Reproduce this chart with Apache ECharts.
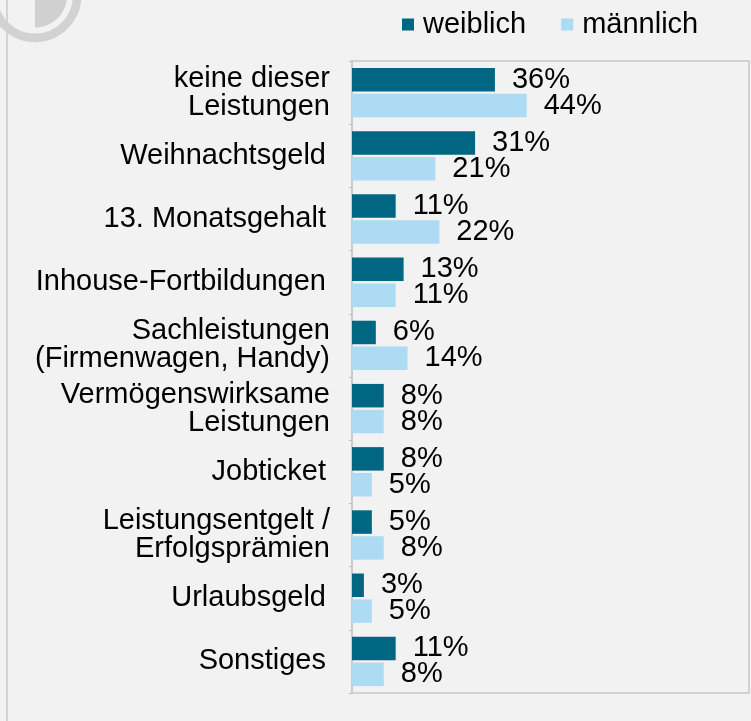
<!DOCTYPE html>
<html>
<head>
<meta charset="utf-8">
<script src="https://cdn.jsdelivr.net/npm/echarts@6/dist/echarts.min.js"></script>
<style>
  html, body { margin: 0; padding: 0; background: #f2f2f2; }
  #chart { width: 751px; height: 721px; }
</style>
</head>
<body>
<div id="chart"></div>
<script>
// Daten
var categories = [
    'keine dieser\nLeistungen',
    'Weihnachtsgeld',
    '13. Monatsgehalt',
    'Inhouse-Fortbildungen',
    'Sachleistungen\n(Firmenwagen, Handy)',
    'Vermögenswirksame\nLeistungen',
    'Jobticket',
    'Leistungsentgelt /\nErfolgsprämien',
    'Urlaubsgeld',
    'Sonstiges'
];
var weiblich = [36, 31, 11, 13, 6, 8, 8, 5, 3, 11];
var maennlich = [44, 21, 22, 11, 14, 8, 5, 8, 5, 8];

var font = '"Liberation Sans", Arial, sans-serif';
var chart = echarts.init(document.getElementById('chart'));

var option = {
    backgroundColor: '#f2f2f2',
    animation: false,
    // Logo oben links + Randlinie
    graphic: [
        { type: 'line', shape: { x1: 7, y1: 0, x2: 7, y2: 721 }, style: { stroke: '#d4d4d4', lineWidth: 2 } },
        { type: 'circle', shape: { cx: 35, cy: -4.3, r: 42.2 }, style: { fill: 'none', stroke: '#d2d2d2', lineWidth: 8.6 } },
        { type: 'sector', shape: { cx: 35, cy: -4.3, r: 32, startAngle: -Math.PI / 2, endAngle: Math.PI / 2 }, style: { fill: '#d0d0d0' } }
    ],
    legend: {
        left: 397,
        top: 5,
        itemWidth: 12,
        itemHeight: 12,
        itemGap: 35,
        icon: 'rect',
        textStyle: { color: '#000', fontSize: 29, fontFamily: font, padding: [0, 0, 0, 4] },
        data: ['weiblich', 'männlich']
    },
    grid: {
        left: 352,
        right: 2,
        top: 61,
        bottom: 28,
        show: true,
        borderColor: '#c8c8c8',
        borderWidth: 1.5,
        containLabel: false
    },
    xAxis: {
        type: 'value',
        min: 0,
        max: 100,
        show: false
    },
    yAxis: {
        type: 'category',
        inverse: true,
        data: categories,
        axisLine: { show: true, lineStyle: { color: '#c8c8c8', width: 1.5 } },
        axisTick: { show: true, length: 3, lineStyle: { color: '#bdbdbd' } },
        axisLabel: {
            color: '#000',
            fontSize: 29,
            fontFamily: font,
            lineHeight: 28,
            margin: 22,
            align: 'right',
            // einzeilige Beschriftungen stehen etwas weiter links
            formatter: function (v) {
                return v.indexOf('\n') < 0 ? '{s|' + v + '}' : v;
            },
            rich: {
                s: { color: '#000', fontSize: 29, fontFamily: font, lineHeight: 28, padding: [0, 4, 0, 0] }
            }
        }
    },
    series: [{
        name: 'weiblich',
        type: 'bar',
        data: weiblich,
        barWidth: 23.5,
        barGap: '10%',
        itemStyle: { color: '#006682' },
        label: { show: true, position: 'right', distance: 17, formatter: '{c}%', color: '#000', fontSize: 29, fontFamily: font }
    }, {
        name: 'männlich',
        type: 'bar',
        data: maennlich,
        barWidth: 23.5,
        barGap: '10%',
        itemStyle: { color: '#aedbf4' },
        label: { show: true, position: 'right', distance: 17, formatter: '{c}%', color: '#000', fontSize: 29, fontFamily: font }
    }]
};

chart.setOption(option);
</script>
</body>
</html>
